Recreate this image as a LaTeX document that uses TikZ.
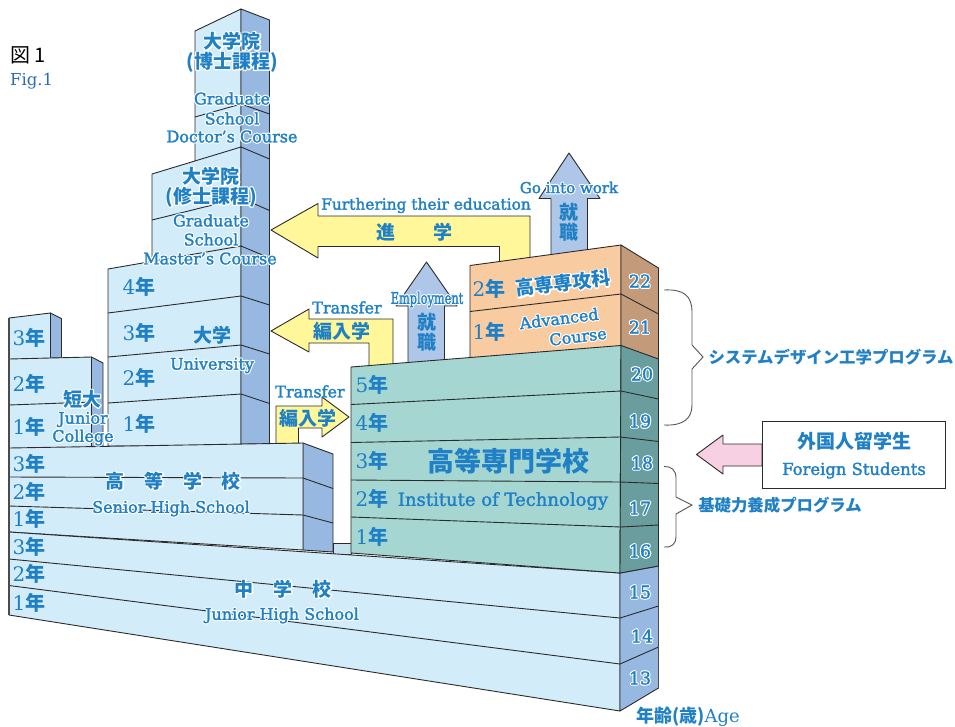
\documentclass[tikz,border=0pt]{standalone}
\usepackage{fontspec}
\setmainfont{DejaVu Serif}
\newfontfamily\jpf{Noto Sans CJK JP}
\newcommand\jp[1]{{\jpf\bfseries #1}}
\definecolor{tblue}{HTML}{1F80C5}
\definecolor{figblue}{HTML}{2A6DB5}
\definecolor{ln}{HTML}{2B2B2B}
\definecolor{lb}{HTML}{D3ECFA}
\definecolor{lbs}{HTML}{C6E2EE}
\definecolor{sb}{HTML}{97B8E0}
\definecolor{tl}{HTML}{A5D6D2}
\definecolor{tls}{HTML}{6A9E9E}
\definecolor{og}{HTML}{F8CBA0}
\definecolor{ogs}{HTML}{C49B7A}
\definecolor{yl}{HTML}{FFF799}
\definecolor{ab}{HTML}{AEC6E8}
\definecolor{pk}{HTML}{F8D0E3}
% white outline under a glyph copy; \wt thickens Latin glyphs slightly
\newcommand\wt[1]{\special{pdf:code q 2 Tr 0.3 w 0.122 0.502 0.773 RG}#1\special{pdf:code Q}}
\newcommand\hlj[1]{\rlap{\special{pdf:code q 1 Tr 2.4 w 1 J 1 j 1 1 1 RG}#1\special{pdf:code Q}}#1}
\newcommand\hl[1]{\rlap{\special{pdf:code q 1 Tr 2.6 w 1 J 1 j 1 1 1 RG}#1\special{pdf:code Q}}\wt{#1}}
\tikzset{
 x=1pt,y=-1pt,
 edge/.style={draw=ln,line width=.9pt,line join=round},
 frontb/.style={edge,fill=lb},
 sideb/.style={edge,fill=sb},
 fronta/.style={edge,fill=tl},
 sidea/.style={edge,fill=tls},
 fronto/.style={edge,fill=og},
 sideo/.style={edge,fill=ogs},
 arry/.style={edge,fill=yl},
 arrb/.style={edge,fill=ab},
 arrp/.style={edge,fill=pk},
 brace/.style={draw=ln!80,line width=.9pt,line join=miter},
 outer/.style={draw=ln!85,line width=1.5pt},
 lbl/.style={inner sep=0pt,yshift=-1.5pt,text=tblue,font=\fontsize{16}{16}\selectfont},
 yr/.style={inner sep=0pt,text=tblue,font=\fontsize{20}{20}\selectfont},
 jl/.style={inner sep=0pt,text=tblue,font=\fontsize{19}{19}\selectfont},
 num/.style={inner sep=0pt,text=tblue,font=\fontsize{17.5}{18}\selectfont},
}
\begin{document}
\begin{tikzpicture}
\useasboundingbox (0,0) rectangle (955,726);
% doctor tower
\path[frontb] (195,161) -- (195,31) -- (241,9) -- (241,161) -- cycle;
\path[sideb] (241,9) -- (269.5,20) -- (269.5,170) -- (241,170) -- cycle;
\draw[edge] (195,117) -- (241,104) -- (269.5,114);
% master
\path[frontb] (152,280) -- (152,174) -- (241,147) -- (241,280) -- cycle;
\path[sideb] (241,147) -- (269.5,159) -- (269.5,280) -- (241,280) -- cycle;
\draw[edge] (152,220) -- (241,198) -- (269.5,210.5);
% university
\path[frontb] (108,446) -- (108,269) -- (241,246) -- (241,446) -- cycle;
\path[sideb] (241,246) -- (269.5,258) -- (269.5,444) -- (241,444) -- cycle;
\draw[edge] (108,313) -- (241,296) -- (269.5,305);
\draw[edge] (108,357) -- (241,345) -- (269.5,354);
\draw[edge] (108,403) -- (241,394) -- (269.5,403.5);
% junior college
\path[frontb] (9,360) -- (9,318) -- (50.5,313) -- (50.5,360) -- cycle;
\path[sideb] (50.5,313) -- (61.5,318.5) -- (61.5,358) -- (50.5,358) -- cycle;
\path[frontb] (9,450) -- (9,359) -- (91.5,357) -- (91.5,448) -- cycle;
\path[sideb] (91.5,357) -- (103,363) -- (103,448) -- (91.5,448) -- cycle;
\draw[edge] (9,405) -- (91.5,402);
% lower transfer arrow
\path[arry] (276,444) -- (276,406) -- (322,406) -- (322,397) -- (349,417) -- (322,437) -- (322,428) -- (298.5,428) -- (298.5,444) -- cycle;
% senior high
\path[sideb] (303,443) -- (333,454) -- (333,552) -- (303,550) -- cycle;
\path[frontb] (9,448) -- (303,443) -- (303,550) -- (9,532) -- cycle;
\draw[edge] (9,477) -- (303,478) -- (333,488.5);
\draw[edge] (9,506) -- (303,515) -- (333,523);
% strip behind
\path[edge,fill=lbs] (333,543) -- (351,543) -- (351,554) -- (333,554) -- cycle;
% junior high
\path[frontb] (9,532) -- (620,573) -- (620,711) -- (9,615) -- cycle;
\path[sideb] (620,573) -- (658.5,566) -- (658.5,688) -- (620,711) -- cycle;
\draw[edge] (9,559) -- (620,618) -- (658.5,606);
\draw[edge] (9,585.5) -- (620,664) -- (658.5,647);
\draw[outer] (9,318) -- (9,615);
\draw[outer] (658.5,566) -- (658.5,688);
% arrows to upper
\path[arry] (271,230) -- (318,203.5) -- (318,216) -- (530,216) -- (530,262) -- (499.5,262) -- (499.5,246.5) -- (318,246.5) -- (318,258) -- cycle;
\path[arrb] (569,153) -- (600,198.5) -- (587.5,198.5) -- (587.5,255) -- (551,255) -- (551,198.5) -- (539,198.5) -- cycle;
\path[arrb] (426.5,262) -- (457,306) -- (444.5,306) -- (444.5,365) -- (408,365) -- (408,306) -- (396,306) -- cycle;
\path[arry] (271,331) -- (309,309) -- (309,319) -- (393,319) -- (393,370) -- (369,370) -- (369,343) -- (309,343) -- (309,352) -- cycle;
% advanced
\path[fronto] (470,358) -- (470,265.5) -- (621,245) -- (621,346) -- cycle;
\path[sideo] (621,245) -- (658.5,268) -- (658.5,360) -- (621,346) -- cycle;
\draw[edge] (470,311.5) -- (621,294) -- (658.5,314);
% institute
\path[fronta] (351,553) -- (351,367) -- (621,345.5) -- (620,573) -- cycle;
\path[sidea] (621,345.5) -- (658.5,359) -- (658.5,566) -- (620,573) -- cycle;
\draw[edge] (351,404.5) -- (621,391) -- (658.5,399);
\draw[edge] (351,442.5) -- (620.5,437) -- (658.5,441.5);
\draw[edge] (351,480) -- (620.5,482) -- (658.5,483.5);
\draw[edge] (351,517) -- (620.5,527) -- (658.5,525);
% foreign
\path[arrp] (696.5,454.5) -- (723,435) -- (723,444) -- (762,444) -- (762,466) -- (723,466) -- (723,474) -- cycle;
\node[draw=ln,line width=.9pt,fill=white,minimum width=183.5pt,minimum height=67pt,inner sep=0pt] (fbox) at (853.7,454.5) {};
% braces
\draw[brace] (664,290) .. controls (684,289) and (692,296) .. (692,312) -- (692,345) -- (703,357) -- (692,369) -- (692,405) .. controls (692,418) and (684,426) .. (664,425);
\draw[brace] (664,466.5) .. controls (671,466) and (676,470) .. (676,478) -- (676,497) -- (692,505) -- (676,514) -- (676,537) .. controls (676,544) and (671,548) .. (664,547);
% title
\node[anchor=west,inner sep=0pt,font=\fontsize{20}{20}\selectfont] (t1) at (10,55) {{\jpf 図 1}};
\node[anchor=west,inner sep=0pt,text=figblue,font=\fontsize{16.5}{16}\selectfont] (t2) at (10,81) {Fig.1};
% doctor labels
\node[jl] (d1) at (232,41) {\hlj{\jp{大学院}}};
\node[jl] (d2) at (232,62) {\hlj{\jp{(博士課程)}}};
\node[lbl] (d3) at (232,97) {\hl{Graduate}};
\node[lbl] (d4) at (232,117) {\hl{School}};
\node[lbl] (d5) at (232,135) {\hl{Doctor’s Course}};
% master labels
\node[jl] (m1) at (211,176) {\hlj{\jp{大学院}}};
\node[jl] (m2) at (211,197) {\hlj{\jp{(修士課程)}}};
\node[lbl] (m3) at (211,219) {\hl{Graduate}};
\node[lbl] (m4) at (211,238) {\hl{School}};
\node[lbl] (m5) at (210,257) {\hl{Master’s Course}};
% years
\node[yr] (u4) at (139,287) {4\jp{年}};
\node[yr] (u3) at (139,333) {3\jp{年}};
\node[yr] (u2) at (139,378) {2\jp{年}};
\node[yr] (u1) at (139,424) {1\jp{年}};
\node[yr] (c3) at (29,338) {3\jp{年}};
\node[yr] (c2) at (29,384) {2\jp{年}};
\node[yr] (c1) at (29,427) {1\jp{年}};
\node[yr] (h3) at (29,464) {3\jp{年}};
\node[yr] (h2) at (29,492) {2\jp{年}};
\node[yr] (h1) at (29,519) {1\jp{年}};
\node[yr] (j3) at (29,547) {3\jp{年}};
\node[yr] (j2) at (29,574) {2\jp{年}};
\node[yr] (j1) at (29,603) {1\jp{年}};
\node[yr] (k5) at (372,385) {5\jp{年}};
\node[yr] (k4) at (372,423) {4\jp{年}};
\node[yr] (k3) at (372,461) {3\jp{年}};
\node[yr] (k2) at (372,499) {2\jp{年}};
\node[yr] (k1) at (372,537) {1\jp{年}};
\node[yr] (a2) at (489,289) {2\jp{年}};
\node[yr] (a1) at (489,332) {1\jp{年}};
% institutions
\node[jl] (un1) at (212,335) {\jp{大学}};
\node[lbl] (un2) at (212,364) {\hl{University}};
\node[jl] (jc1) at (82,399) {\hlj{\jp{短大}}};
\node[lbl] (jc2) at (83,418) {\hl{Junior}};
\node[lbl] (jc3) at (83,436) {\hl{College}};
\node[jl] (s1) at (115,481) {\hlj{\jp{高}}};
\node[jl] (s2) at (154,481) {\hlj{\jp{等}}};
\node[jl] (s3) at (193,481) {\hlj{\jp{学}}};
\node[jl] (s4) at (231,481) {\hlj{\jp{校}}};
\node[lbl] (s5) at (171,507) {\hl{Senior High School}};
\node[jl] (jh1) at (244,589) {\hlj{\jp{中}}};
\node[jl] (jh2) at (283,589) {\hlj{\jp{学}}};
\node[jl] (jh3) at (322,589) {\hlj{\jp{校}}};
\node[lbl] (jh4) at (282,614) {\hl{Junior High School}};
\node[inner sep=0pt,text=tblue,font=\fontsize{27}{27}\selectfont] (k6) at (508,461) {\jp{高等専門学校}};
\node[lbl,font=\fontsize{18}{18}\selectfont] (k7) at (503,499.5) {\wt{Institute of Technology}};
% advanced
\node[jl,rotate=7] (ad1) at (563,283) {\hlj{\jp{高専専攻科}}};
\node[lbl,rotate=7] (ad2) at (559,317) {\hl{Advanced}};
\node[lbl,rotate=7] (ad3) at (578,335) {\hl{Course}};
% arrows text
\node[lbl,font=\fontsize{15.4}{16}\selectfont] (f1) at (426,204) {\wt{Furthering their education}};
\node[jl] (f2) at (386,232) {\jp{進}};
\node[jl] (f3) at (443,232) {\jp{学}};
\node[lbl] (tr1) at (347,306) {\wt{Transfer}};
\node[jl] (tr2) at (342,331) {\jp{編入学}};
\node[lbl] (tr3) at (310,390) {\wt{Transfer}};
\node[jl] (tr4) at (308,418) {\jp{編入学}};
\node[lbl,font=\fontsize{15}{16}\selectfont] (g1) at (569,186) {\hl{Go into work}};
\node[jl] (g2) at (569,212) {\jp{就}};
\node[jl] (g3) at (569,232) {\jp{職}};
\node[lbl] (e1) at (427,298) {\hl{\scalebox{.71}[1]{Employment}}};
\node[jl] (e2) at (427,322) {\jp{就}};
\node[jl] (e3) at (427,342) {\jp{職}};
% ages
\node[num] (n22) at (640,281) {\hl{22}};
\node[num] (n21) at (640,327) {\hl{21}};
\node[num] (n20) at (642,374) {\hl{20}};
\node[num] (n19) at (640,421) {\hl{19}};
\node[num] (n18) at (642,463) {\hl{18}};
\node[num] (n17) at (640,508) {\hl{17}};
\node[num] (n16) at (640,551) {\hl{16}};
\node[num] (n15) at (640,592) {\hl{15}};
\node[num] (n14) at (642,636) {\hl{14}};
\node[num] (n13) at (640,678) {\hl{13}};
\node[inner sep=0pt,text=tblue,font=\fontsize{18}{18}\selectfont] (age) at (688,717) {\jp{年齢(歳)}Age};
% right labels
\node[inner sep=0pt,text=tblue,font=\fontsize{16.4}{17}\selectfont] (p1) at (831,357) {\jp{システムデザイン工学プログラム}};
\node[inner sep=0pt,text=tblue,font=\fontsize{16.4}{17}\selectfont] (p2) at (780,505) {\jp{基礎力養成プログラム}};
\node[inner sep=0pt,text=tblue,font=\fontsize{19}{19}\selectfont] (b1) at (854,441) {\jp{外国人留学生}};
\node[lbl,font=\fontsize{16.4}{17}\selectfont] (b2) at (854,469) {\wt{Foreign Students}};
\end{tikzpicture}
\end{document}
